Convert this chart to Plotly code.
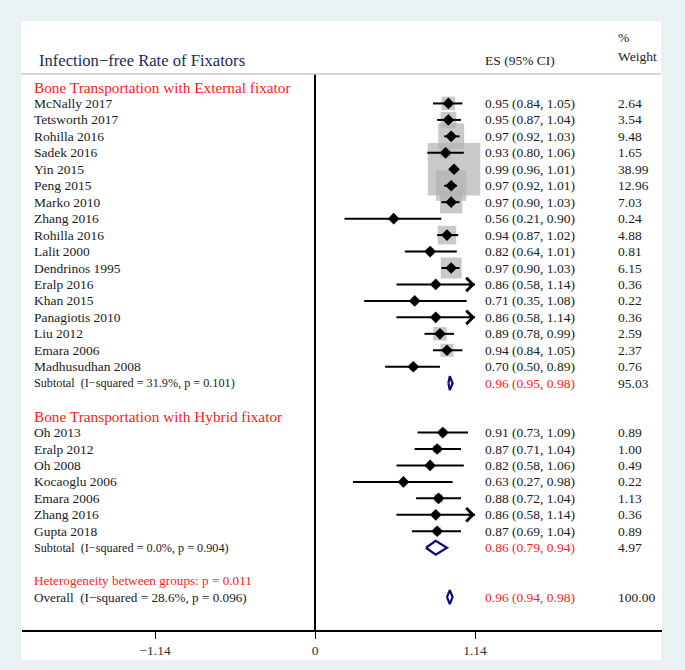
import plotly.graph_objects as go
import math

# ---------------- data ----------------
ext_studies = ["McNally 2017", "Tetsworth 2017", "Rohilla 2016", "Sadek 2016", "Yin 2015",
               "Peng 2015", "Marko 2010", "Zhang 2016", "Rohilla 2016", "Lalit 2000",
               "Dendrinos 1995", "Eralp 2016", "Khan 2015", "Panagiotis 2010", "Liu 2012",
               "Emara 2006", "Madhusudhan 2008"]
ext_es = [0.95, 0.95, 0.97, 0.93, 0.99, 0.97, 0.97, 0.56, 0.94, 0.82, 0.97, 0.86, 0.71, 0.86, 0.89, 0.94, 0.70]
ext_lo = [0.84, 0.87, 0.92, 0.80, 0.96, 0.92, 0.90, 0.21, 0.87, 0.64, 0.90, 0.58, 0.35, 0.58, 0.78, 0.84, 0.50]
ext_hi = [1.05, 1.04, 1.03, 1.06, 1.01, 1.01, 1.03, 0.90, 1.02, 1.01, 1.03, 1.14, 1.08, 1.14, 0.99, 1.05, 0.89]
ext_w = [2.64, 3.54, 9.48, 1.65, 38.99, 12.96, 7.03, 0.24, 4.88, 0.81, 6.15, 0.36, 0.22, 0.36, 2.59, 2.37, 0.76]

hyb_studies = ["Oh 2013", "Eralp 2012", "Oh 2008", "Kocaoglu 2006", "Emara 2006", "Zhang 2016", "Gupta 2018"]
hyb_es = [0.91, 0.87, 0.82, 0.63, 0.88, 0.86, 0.87]
hyb_lo = [0.73, 0.71, 0.58, 0.27, 0.72, 0.58, 0.69]
hyb_hi = [1.09, 1.04, 1.06, 0.98, 1.04, 1.14, 1.04]
hyb_w = [0.89, 1.00, 0.49, 0.22, 1.13, 0.36, 0.89]

group_names = ["Bone Transportation with External fixator", "Bone Transportation with Hybrid fixator"]
sub_labels = ["Subtotal  (I\u2212squared = 31.9%, p = 0.101)", "Subtotal  (I\u2212squared = 0.0%, p = 0.904)"]
sub_es = [0.96, 0.86]
sub_lo = [0.95, 0.79]
sub_hi = [0.98, 0.94]
sub_w = ["95.03", "4.97"]

het_label = "Heterogeneity between groups: p = 0.011"
overall_label = "Overall  (I\u2212squared = 28.6%, p = 0.096)"
overall_es, overall_lo, overall_hi, overall_w = 0.96, 0.94, 0.98, "100.00"

tick_vals = [-1.14, 0, 1.14]
tick_text = ["\u22121.14", "0", "1.14"]
title_text = "Infection\u2212free Rate of Fixators"
TRUNC = 1.14

# ---------------- layout of rows ----------------
FONT = "Liberation Serif, Times New Roman, serif"
fig = go.Figure()

studies = []  # (row, name, es, lo, hi, w)
row = 0
header_rows = []
sub_rows = []
for g, (names, es, lo, hi, w) in enumerate([(ext_studies, ext_es, ext_lo, ext_hi, ext_w),
                                          (hyb_studies, hyb_es, hyb_lo, hyb_hi, hyb_w)]):
    header_rows.append(row)
    row += 1
    for i in range(len(names)):
        studies.append((row, names[i], es[i], lo[i], hi[i], w[i]))
        row += 1
    sub_rows.append(row)
    row += 2
het_row = row
overall_row = row + 1

X_LABEL = -2.016
X_ES = 1.197
X_W = 2.145

# weight boxes
fig.add_trace(go.Scatter(
    x=[s[2] for s in studies], y=[s[0] for s in studies], mode="markers",
    marker=dict(symbol="square", size=[8.4 * math.sqrt(s[5]) for s in studies],
                color="#b2b2b2", line=dict(width=0)),
    hoverinfo="skip", showlegend=False))

# CI lines
cx, cy = [], []
for r, n, e, lo, hi, w in studies:
    cx += [lo, hi, None]
    cy += [r, r, None]
fig.add_trace(go.Scatter(x=cx, y=cy, mode="lines", line=dict(color="black", width=2),
                         hoverinfo="skip", showlegend=False))

# point estimates
fig.add_trace(go.Scatter(
    x=[s[2] for s in studies], y=[s[0] for s in studies], mode="markers",
    marker=dict(symbol="diamond", size=9, color="black"),
    hoverinfo="skip", showlegend=False))

# arrows for truncated CIs
for r, n, e, lo, hi, w in studies:
    if hi >= TRUNC:
        fig.add_annotation(x=hi, y=r, ax=hi - 0.06, ay=r, xref="x", yref="y", axref="x", ayref="y",
                           showarrow=True, arrowhead=4, arrowsize=1.3, arrowwidth=2,
                           arrowcolor="black", text="")

# pooled diamonds
H = 0.42
for es, lo, hi, r in list(zip(sub_es, sub_lo, sub_hi, sub_rows)) + [(overall_es, overall_lo, overall_hi, overall_row)]:
    fig.add_trace(go.Scatter(x=[lo, es, hi, es, lo], y=[r, r - H, r, r + H, r], mode="lines",
                             fill="toself", fillcolor="white",
                             line=dict(color="#0a0a78", width=2.2),
                             hoverinfo="skip", showlegend=False))

# overall dashed line
fig.add_shape(type="line", x0=overall_es, x1=overall_es, xref="x", y0=0, y1=1, yref="paper",
              line=dict(color="#a8323a", width=1.5, dash="5px,4px"), layer="below")

# white panel & header line
fig.add_shape(type="rect", xref="paper", yref="paper", x0=-0.0016, x1=0.9984, y0=-0.054, y1=1.0953,
              fillcolor="white", line=dict(width=0), layer="below")
fig.add_shape(type="line", xref="paper", yref="paper", x0=-0.0016, x1=0.9984, y0=1.0, y1=1.0,
              line=dict(color="#c8c8c8", width=1.5))

def txt(x, y, s, size=13.5, color="#1a1a1a", yref="y"):
    fig.add_annotation(x=x, y=y, xref="x", yref=yref, text=s, showarrow=False,
                       xanchor="left", yanchor="middle",
                       font=dict(family=FONT, size=size, color=color))

RED = "#ff1a1a"
for r, name in zip(header_rows, group_names):
    txt(X_LABEL, r, name, size=15.3, color=RED)
for r, n, e, lo, hi, w in studies:
    txt(X_LABEL, r, n)
    txt(X_ES, r, f"{e:.2f} ({lo:.2f}, {hi:.2f})")
    txt(X_W, r, f"{w:.2f}")
for r, lab, e, lo, hi, w in zip(sub_rows, sub_labels, sub_es, sub_lo, sub_hi, sub_w):
    txt(X_LABEL, r, lab, size=12.2)
    txt(X_ES, r, f"{e:.2f} ({lo:.2f}, {hi:.2f})", color=RED)
    txt(X_W, r, w)
txt(X_LABEL, het_row, het_label, size=13.2, color=RED)
txt(X_LABEL, overall_row, overall_label, size=13.2)
txt(X_ES, overall_row, f"{overall_es:.2f} ({overall_lo:.2f}, {overall_hi:.2f})", color=RED)
txt(X_W, overall_row, overall_w)

# header texts
txt(-1.98, 1.025, title_text, size=16.6, color="#1c2a5c", yref="paper")
txt(X_ES, 1.025, "ES (95% CI)", yref="paper")
txt(X_W, 1.066, "%", yref="paper")
txt(X_W, 1.032, "Weight", yref="paper")

fig.update_layout(
    width=685, height=670,
    margin=dict(l=22, r=23, t=74, b=40),
    paper_bgcolor="#eaf1f2", plot_bgcolor="white",
    showlegend=False,
    xaxis=dict(range=[-2.088, 2.472], tickvals=tick_vals, ticktext=tick_text,
               showgrid=False, zeroline=True, zerolinecolor="black", zerolinewidth=1.5,
               showline=True, linecolor="black", linewidth=1.5,
               ticks="outside", ticklen=7, tickwidth=1.2, tickcolor="black",
               tickfont=dict(family=FONT, size=13.5, color="#333"), fixedrange=True),
    yaxis=dict(range=[33.0, -0.79], showgrid=False, zeroline=False, showticklabels=False,
               showline=False, fixedrange=True),
)

fig.write_html("out.html", config={"displayModeBar": False},
               post_script="document.body.style.margin='0';document.body.style.overflow='hidden';")
